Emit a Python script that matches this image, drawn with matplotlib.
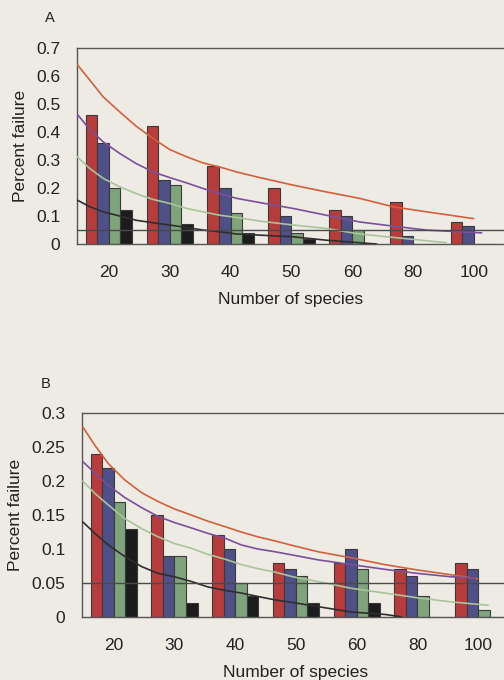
import matplotlib
matplotlib.use("Agg")
from matplotlib import pyplot as plt
import numpy as np

plt.rcParams["font.family"] = ["Liberation Sans", "DejaVu Sans"]

species = ["20", "30", "40", "50", "60", "80", "100"]

# panel A bars
a_red = [0.46, 0.42, 0.28, 0.20, 0.12, 0.15, 0.08]
a_blue = [0.36, 0.23, 0.20, 0.10, 0.10, 0.03, 0.065]
a_green = [0.20, 0.21, 0.11, 0.04, 0.05, 0.0, 0.0]
a_black = [0.12, 0.07, 0.04, 0.02, 0.003, 0.0, 0.0]

# panel A curves (x in category units)
a_red_x = [-0.52, -0.31, -0.09, 0.18, 0.45, 0.73, 1.00, 1.28, 1.55, 1.82, 2.10, 2.48, 3.03, 3.57, 4.12, 4.67, 5.22, 5.99]
a_red_y = [0.64, 0.584, 0.524, 0.471, 0.42, 0.376, 0.337, 0.311, 0.289, 0.275, 0.257, 0.237, 0.21, 0.186, 0.163, 0.133, 0.115, 0.091]
a_purple_x = [-0.52, -0.31, -0.09, 0.18, 0.45, 0.73, 1.00, 1.28, 1.55, 1.82, 2.10, 2.48, 3.03, 3.57, 4.12, 4.67, 5.22, 6.12]
a_purple_y = [0.463, 0.408, 0.364, 0.323, 0.287, 0.257, 0.237, 0.218, 0.198, 0.18, 0.163, 0.148, 0.127, 0.103, 0.079, 0.064, 0.05, 0.04]
a_green_x = [-0.52, -0.31, -0.09, 0.18, 0.45, 0.73, 1.00, 1.28, 1.55, 1.82, 2.10, 2.48, 3.03, 3.57, 4.12, 4.67, 5.22, 5.54]
a_green_y = [0.311, 0.269, 0.234, 0.204, 0.18, 0.159, 0.145, 0.127, 0.115, 0.103, 0.095, 0.082, 0.068, 0.056, 0.036, 0.024, 0.012, 0.005]
a_black_x = [-0.52, -0.31, -0.09, 0.18, 0.45, 0.73, 1.00, 1.28, 1.55, 1.82, 2.10, 2.48, 3.03, 3.57, 4.12, 4.4]
a_black_y = [0.157, 0.133, 0.115, 0.1, 0.085, 0.076, 0.068, 0.059, 0.05, 0.044, 0.036, 0.032, 0.026, 0.014, 0.005, 0.0]

# panel B bars
b_red = [0.24, 0.15, 0.12, 0.08, 0.08, 0.07, 0.08]
b_blue = [0.22, 0.09, 0.10, 0.07, 0.10, 0.06, 0.07]
b_green = [0.17, 0.09, 0.05, 0.06, 0.07, 0.03, 0.01]
b_black = [0.13, 0.02, 0.03, 0.02, 0.02, 0.0, 0.0]

# panel B curves
b_red_x = [-0.51, -0.31, -0.09, 0.18, 0.46, 0.73, 1.0, 1.28, 1.55, 1.83, 2.10, 2.37, 2.65, 2.95, 3.36, 3.91, 4.46, 5.0, 5.55, 5.99]
b_red_y = [0.280, 0.253, 0.226, 0.202, 0.183, 0.170, 0.159, 0.150, 0.141, 0.133, 0.125, 0.118, 0.112, 0.105, 0.096, 0.087, 0.077, 0.069, 0.062, 0.056]
b_purple_x = [-0.51, -0.31, -0.09, 0.18, 0.46, 0.73, 1.0, 1.28, 1.55, 1.83, 2.10, 2.37, 2.65, 2.95, 3.36, 3.91, 4.46, 5.0, 5.55, 5.94]
b_purple_y = [0.229, 0.212, 0.194, 0.176, 0.161, 0.148, 0.139, 0.131, 0.123, 0.116, 0.106, 0.1, 0.096, 0.091, 0.084, 0.077, 0.07, 0.064, 0.059, 0.057]
b_green_x = [-0.51, -0.31, -0.09, 0.18, 0.46, 0.73, 1.0, 1.28, 1.55, 1.83, 2.10, 2.37, 2.65, 2.95, 3.36, 3.91, 4.46, 5.0, 5.55, 6.16]
b_green_y = [0.200, 0.182, 0.165, 0.145, 0.130, 0.118, 0.108, 0.101, 0.092, 0.085, 0.077, 0.071, 0.066, 0.059, 0.052, 0.042, 0.035, 0.028, 0.022, 0.017]
b_black_x = [-0.51, -0.31, -0.09, 0.18, 0.46, 0.73, 1.0, 1.28, 1.55, 1.83, 2.10, 2.37, 2.65, 2.95, 3.36, 3.91, 4.46, 4.73]
b_black_y = [0.140, 0.123, 0.106, 0.089, 0.074, 0.064, 0.059, 0.052, 0.044, 0.039, 0.035, 0.030, 0.025, 0.021, 0.015, 0.007, 0.0035, 0.0]

a_yticks = [0, 0.1, 0.2, 0.3, 0.4, 0.5, 0.6, 0.7]
a_ylabels = ["0", "0.1", "0.2", "0.3", "0.4", "0.5", "0.6", "0.7"]
b_yticks = [0, 0.05, 0.1, 0.15, 0.2, 0.25, 0.3]
b_ylabels = ["0", "0.05", "0.1", "0.15", "0.2", "0.25", "0.3"]

bg = "#eeebe4"
bar_colors = ["#b93c3c", "#4f5088", "#7fa47c", "#1c1c1c"]
curve_colors = ["#d2603a", "#7b4f9a", "#a9c49a", "#2e2e2e"]


def panel(ax, bars, curves, yticks, ylabels, ymax, letter, letter_xy):
    x = np.arange(len(species))
    w = 0.19
    for i, (vals, c) in enumerate(zip(bars, bar_colors)):
        ax.bar(x + (i - 1.5) * w, vals, w, color=c, edgecolor="#3a3a3a", linewidth=0.8, zorder=2)
    for (cx, cy), c in zip(curves, curve_colors):
        ax.plot(cx, cy, color=c, linewidth=1.2, zorder=3)
    ax.axhline(0.05, color="#4a4a4a", linewidth=1.0, zorder=3)
    ax.set_xlim(-0.52, 6.5)
    ax.set_ylim(0, ymax)
    ax.set_xticks(x)
    ax.set_xticklabels(species, fontsize=12.5, color="#222222")
    ax.set_yticks(yticks)
    ax.set_yticklabels(ylabels, fontsize=12.5, color="#222222")
    ax.tick_params(axis="x", length=0, pad=15)
    ax.tick_params(axis="y", length=0, pad=12)
    ax.set_xlabel("Number of species", fontsize=12.5, color="#222222", labelpad=9)
    ax.set_ylabel("Percent failure", fontsize=12.5, color="#222222", labelpad=6)
    ax.set_facecolor(bg)
    ax.spines["right"].set_visible(False)
    for s in ["top", "left", "bottom"]:
        ax.spines[s].set_color("#555555")
        ax.spines[s].set_linewidth(1.0)
    ax.text(letter_xy[0], letter_xy[1], letter, transform=ax.transAxes, fontsize=10.5,
            color="#222222", ha="center", va="center")


fig = plt.figure(figsize=(5.04, 6.8), dpi=100, facecolor=bg)
ax1 = fig.add_axes([0.153, 0.641, 0.848, 0.289])
ax2 = fig.add_axes([0.163, 0.093, 0.846, 0.299])

panel(ax1, [a_red, a_blue, a_green, a_black],
      [(a_red_x, a_red_y), (a_purple_x, a_purple_y), (a_green_x, a_green_y), (a_black_x, a_black_y)],
      a_yticks, a_ylabels, 0.7, "A", (-0.063, 1.149))
panel(ax2, [b_red, b_blue, b_green, b_black],
      [(b_red_x, b_red_y), (b_purple_x, b_purple_y), (b_green_x, b_green_y), (b_black_x, b_black_y)],
      b_yticks, b_ylabels, 0.3, "B", (-0.085, 1.145))

fig.savefig("out.png", dpi=100, facecolor=bg)
